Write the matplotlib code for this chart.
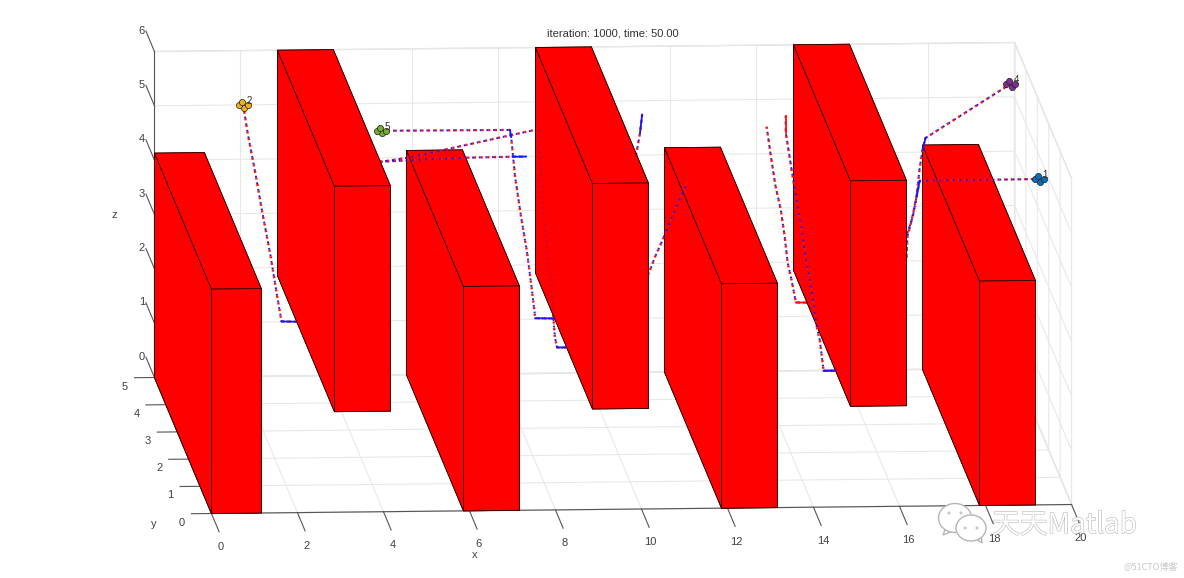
import matplotlib
matplotlib.use('Agg')
import matplotlib.pyplot as plt
import matplotlib.patheffects as pe
from matplotlib.patches import Ellipse, Polygon
from matplotlib.transforms import IdentityTransform, Affine2D
from mpl_toolkits.mplot3d.art3d import Poly3DCollection

plt.rcParams['font.family'] = ['Liberation Sans', 'DejaVu Sans']
plt.rcParams['grid.color'] = '#e8e8e8'
plt.rcParams['grid.linewidth'] = 0.8

# obstacles
wall_x0 = [0, 2.86, 5.86, 8.86, 11.86, 14.86, 17.86]
wall_x1 = [1.16, 4.16, 7.16, 10.16, 13.16, 16.16, 19.16]
wall_z0 = [0, 1.85, 0, 1.85, 0, 1.85, 0]
wall_z1 = [4.13, 6, 4.13, 6, 4.13, 6, 4.13]
wall_y0 = 0
wall_y1 = 5
wall_layer = [6, 6, 1, 6, 1, 3, 1]

# trajectories, each at one depth
p1_y = 4
p1_x = [1.80, 1.90, 2.08, 2.24, 2.43, 2.59, 2.69, 3.13]
p1_z = [5.50, 4.99, 4.25, 3.53, 2.74, 1.97, 1.51, 1.50]
p2_y = 4
p2_x = [5.01, 8.00, 8.03, 8.12, 8.26, 8.40, 8.52, 8.59, 9.17]
p2_z = [5.00, 4.99, 4.86, 4.13, 3.39, 2.73, 1.99, 1.52, 1.51]
p3_y = 3
p3_x = [4.26, 5.35, 8.32, 8.41, 8.44, 8.51, 8.62, 8.72, 8.78, 8.83, 9.06]
p3_z = [4.88, 5.00, 5.49, 5.49, 5.07, 4.02, 3.10, 2.31, 1.68, 1.48, 1.48]
p4_y = 3
p4_x = [4.26, 6.65, 7.80, 8.11]
p4_z = [4.92, 4.99, 5.00, 5.00]
p5_y = 3
p5_x = [10.81, 10.76, 10.67, 10.41]
p5_z = [5.75, 5.41, 5.01, 4.37]
p6_y = 3
p6_x = [11.87, 11.62, 11.41, 11.27, 11.11, 10.97, 10.76]
p6_z = [4.50, 4.08, 3.68, 3.41, 3.13, 2.84, 2.47]
p7_y = 4
p7_x = [13.97, 14.07, 14.18, 14.30, 14.39, 14.46, 14.56, 14.65, 15.20]
p7_z = [5.00, 4.45, 3.89, 3.47, 2.97, 2.49, 2.13, 1.76, 1.75]
p8_y = 3
p8_x = [14.15, 14.15, 14.24, 14.31, 14.43, 14.52, 14.61, 14.71, 14.78, 14.87, 14.94, 15.03, 15.31]
p8_z = [5.70, 5.39, 4.94, 4.58, 4.02, 3.60, 3.10, 2.68, 2.31, 1.81, 1.57, 1.00, 1.00]
p9_y = 5
p9_x = [19.91, 17.93, 17.86, 17.79, 17.72, 17.61, 17.51, 17.49, 17.33]
p9_z = [5.24, 4.26, 4.04, 3.68, 3.18, 2.76, 2.45, 2.08, 1.66]
p10_y = 2.5
p10_x = [19.92, 17.13, 17.06, 16.97, 16.85, 16.62]
p10_z = [4.74, 4.73, 4.44, 4.07, 3.78, 3.24]

# agents at the start of the runs
yellow_x = [1.70, 1.77, 1.90, 1.82]
yellow_z = [5.50, 5.55, 5.50, 5.45]
green_x = [4.91, 4.98, 5.11, 5.03]
green_z = [5.00, 5.05, 5.00, 4.95]
purple_x = [19.81, 19.88, 20.01, 19.93]
purple_z = [5.24, 5.29, 5.24, 5.19]
blue_x = [19.82, 19.89, 20.02, 19.94]
blue_z = [4.74, 4.79, 4.74, 4.69]

x_ticks = list(range(0, 21, 2))
y_ticks = list(range(0, 6))
z_ticks = list(range(0, 7))


def addWall(ax, x0, x1, y0, y1, z0, z1, layer):
    faces = [
        [(x0, y0, z0), (x1, y0, z0), (x1, y0, z1), (x0, y0, z1)],
        [(x0, y1, z0), (x1, y1, z0), (x1, y1, z1), (x0, y1, z1)],
        [(x0, y0, z0), (x0, y1, z0), (x0, y1, z1), (x0, y0, z1)],
        [(x1, y0, z0), (x1, y1, z0), (x1, y1, z1), (x1, y0, z1)],
        [(x0, y0, z1), (x1, y0, z1), (x1, y1, z1), (x0, y1, z1)],
        [(x0, y0, z0), (x1, y0, z0), (x1, y1, z0), (x0, y1, z0)],
    ]
    wall = Poly3DCollection(faces, facecolor='#ff0000', edgecolor='#300000', linewidth=0.6, zorder=layer)
    ax.add_collection3d(wall)


def addPath(ax, xs, y, zs, layer, solid=(), solid_color='#1515ff', red_top=False):
    ys = [y] * len(xs)
    red_z = layer + 0.2 if red_top else layer
    ax.plot(xs, ys, zs, color='#ff1010', lw=1.7, ls=(0, (0.9, 1.93)), zorder=red_z)
    ax.plot(xs, ys, zs, color='#1515ff', lw=1.4, ls=(0.8, (0.9, 2.53)), zorder=layer + 0.1)
    # legs where the dots crowd into a line
    for i in solid:
        ax.plot(xs[i:i + 2], ys[i:i + 2], zs[i:i + 2], color=solid_color, lw=1.3, zorder=layer + 0.3)


def addCluster(ax, xs, y, zs, color, label):
    ax.scatter(xs, [y] * len(xs), zs, s=20, c=color, edgecolors='#202020', linewidths=0.5,
               depthshade=False, zorder=8)
    ax.text(xs[2] - 0.03, y, zs[2] + 0.02, label, fontsize=7, color='#303030', zorder=9)


def shiftTickLabels(ax, axis, dx, dy):
    # Axis3D puts transData back on its ticks, so the shift goes in after it
    getTicks = axis.get_major_ticks

    def shifted(numticks=None):
        ticks = getTicks(numticks)
        for tick in ticks:
            tick.label1.set_transform(ax.transData + Affine2D().translate(dx, dy))
        return ticks
    axis.get_major_ticks = shifted


fig = plt.figure(figsize=(11.84, 5.78), dpi=100)
ax = fig.add_axes([5 / 1184, -308 / 578, 1, 1184 / 578], projection='3d', proj_type='ortho',
                  computed_zorder=False)
ax.view_init(elev=9.1, azim=-93.79)
ax.set_box_aspect((1, 1, 0.383), zoom=1.0355)
ax.patch.set_alpha(0)

ax.set_xlim(0, 20, view_margin=0)
ax.set_ylim(0, 5, view_margin=0)
ax.set_zlim(0, 6, view_margin=0)
ax.set_xticks(x_ticks)
ax.set_yticks(y_ticks)
ax.set_zticks(z_ticks)
ax.zaxis.set_ticks_position('upper')
ax.zaxis._get_tickdir = lambda pos: 1

for axis, factor, shift in [(ax.xaxis, -1.68, (8, -18)), (ax.yaxis, -0.29, (-10, 3.5)), (ax.zaxis, 1.87, (8, 23))]:
    axis.set_pane_color((1, 1, 1, 1))
    axis.pane.set_edgecolor('#e0e0e0')
    axis.line.set_color('#555555')
    axis.line.set_linewidth(0.8)
    axis._axinfo['tick']['outward_factor'] = factor
    axis._axinfo['tick']['inward_factor'] = 0
    axis.set_tick_params(labelsize=8, labelcolor='#404040', color='#555555', width=0.7, pad=2)
    axis.label.set_visible(False)
    axis.offsetText.set_visible(False)
    shiftTickLabels(ax, axis, *shift)

for i in range(len(wall_x0)):
    addWall(ax, wall_x0[i], wall_x1[i], wall_y0, wall_y1, wall_z0[i], wall_z1[i], wall_layer[i])

addPath(ax, p1_x, p1_y, p1_z, 2, solid=[6], red_top=True)
addPath(ax, p2_x, p2_y, p2_z, 2, solid=[1, 7])
addPath(ax, p3_x, p3_y, p3_z, 2, solid=[9])
addPath(ax, p4_x, p4_y, p4_z, 2, solid=[2])
addPath(ax, p5_x, p5_y, p5_z, 2, solid=[0])
addPath(ax, p6_x, p6_y, p6_z, 2)
addPath(ax, p7_x, p7_y, p7_z, 2, solid=[7], solid_color='#ff1010', red_top=True)
addPath(ax, p8_x, p8_y, p8_z, 4, solid=[0], solid_color='#ff1010')
addPath(ax, p8_x[11:], p8_y, p8_z[11:], 4, solid=[0])
addPath(ax, p9_x, p9_y, p9_z, 2, solid=[1])
addPath(ax, p10_x, p10_y, p10_z, 2, solid=[1])

# the faint run seen through the fourth wall
ax.plot(p3_x[3:], [p3_y] * len(p3_x[3:]), p3_z[3:], color='#1515ff', lw=1.0, alpha=0.45,
        ls=(0, (1, 3)), zorder=7)

addCluster(ax, yellow_x, p1_y, yellow_z, '#edb120', '2')
addCluster(ax, green_x, p2_y, green_z, '#77ac30', '5')
addCluster(ax, purple_x, p9_y, purple_z, '#7e2f8e', '4')
addCluster(ax, blue_x, p10_y, blue_z, '#0072bd', '1')

fig.text(613 / 1184, 1 - 34 / 578, 'iteration: 1000, time: 50.00', fontsize=8, color='#333333',
         ha='center', va='center')
fig.text(475 / 1184, 1 - 555 / 578, 'x', fontsize=8, color='#404040', ha='center', va='center')
fig.text(154 / 1184, 1 - 524 / 578, 'y', fontsize=8, color='#404040', ha='center', va='center')
fig.text(114 / 1184, 1 - 215 / 578, 'z', fontsize=8, color='#404040', ha='center', va='center')

# watermark
for tail in [[(946, 51), (943, 43), (953, 47)], [(975, 40), (982, 35), (981, 43)]]:
    fig.add_artist(Polygon(tail, transform=IdentityTransform(), facecolor='white',
                           edgecolor='#b5b5b5', linewidth=1))
for cx, cy, w, h in [(955, 60, 33, 29), (971, 50, 30, 26)]:
    fig.add_artist(Ellipse((cx, cy), w, h, transform=IdentityTransform(), facecolor='white',
                           edgecolor='#b5b5b5', linewidth=1))
for cx, cy in [(949, 65), (961, 65), (965, 50), (977, 50)]:
    fig.add_artist(Ellipse((cx, cy), 3, 3, transform=IdentityTransform(), facecolor='#c5c5c5',
                           edgecolor='none'))
fig.text(992 / 1184, 1 - 525 / 578, '天天Matlab', fontsize=20, color='white', va='center',
         family=['Noto Sans CJK SC', 'DejaVu Sans'],
         path_effects=[pe.withStroke(linewidth=0.8, foreground='#b8b8b8')])
fig.text(1178 / 1184, 1 - 567 / 578, '@51CTO博客', fontsize=6.5, color='#c8c8c8', ha='right', va='center',
         family=['Noto Sans CJK SC', 'DejaVu Sans'])

fig.savefig('out.png', dpi=100)
